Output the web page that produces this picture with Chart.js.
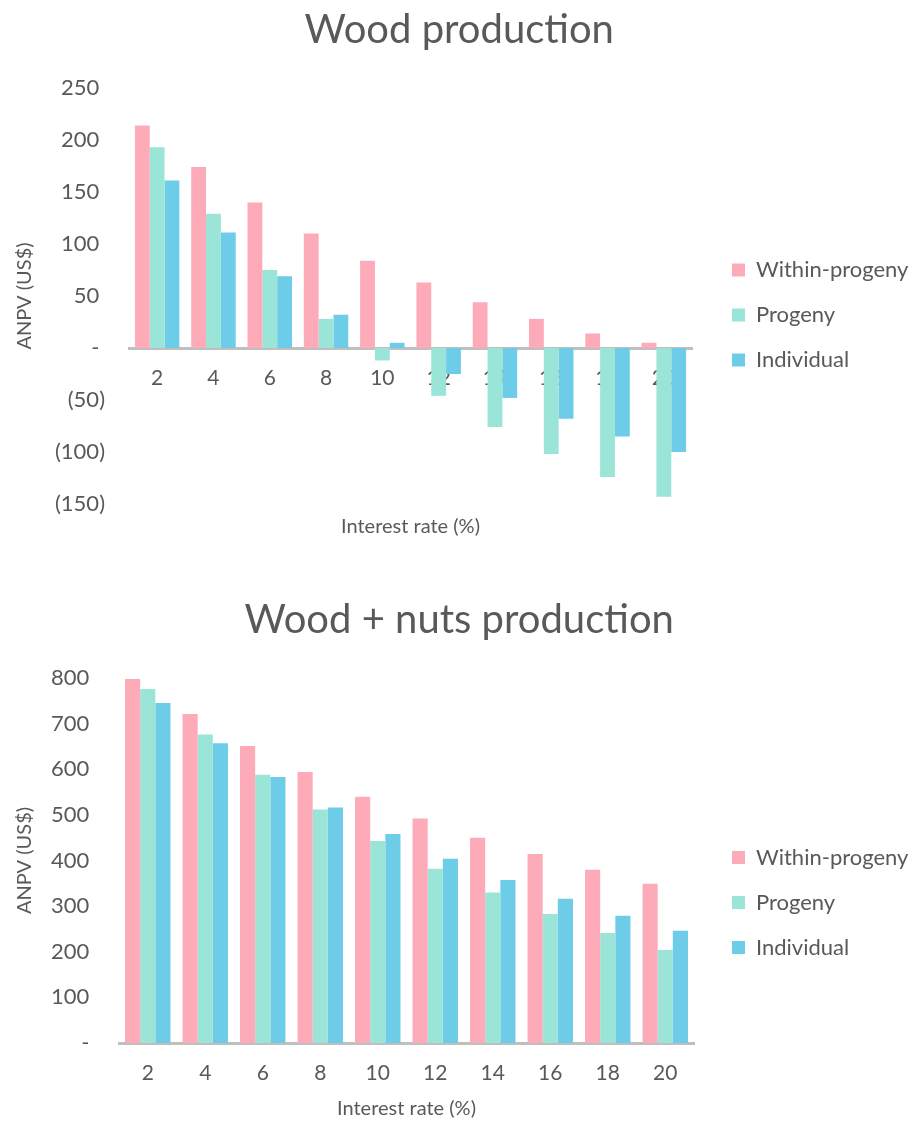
<!DOCTYPE html>
<html lang="en">
<head>
    <meta charset="UTF-8">
    <title>ANPV by interest rate</title>
    <script src="https://cdn.jsdelivr.net/npm/chart.js"></script>
    <style>
        body {
            margin: 0;
            padding: 0;
            background: #ffffff;
            overflow: hidden;
        }
        canvas {
            display: block;
        }
    </style>
</head>
<body>
    <canvas id="woodChart" width="913" height="560"></canvas>
    <canvas id="nutsChart" width="913" height="561"></canvas>

    <script>
        const rates = ['2', '4', '6', '8', '10', '12', '14', '16', '18', '20'];
        const seriesNames = ['Within-progeny', 'Progeny', 'Individual'];

        // Wood production
        const woodWithin = [214, 174, 140, 110, 84, 63, 44, 28, 14, 5];
        const woodProgeny = [193, 129, 75, 28, -12, -46, -76, -102, -124, -143];
        const woodIndividual = [161, 111, 69, 32, 5, -25, -48, -68, -85, -100];

        // Wood + nuts production
        const nutsWithin = [798, 721, 651, 594, 540, 492, 450, 414, 380, 349];
        const nutsProgeny = [776, 676, 588, 512, 443, 382, 330, 283, 241, 204];
        const nutsIndividual = [745, 657, 583, 516, 458, 404, 357, 316, 279, 246];

        const colors = ['#FDABB8', '#9AE5D7', '#6DCDE8'];
        const textColor = '#595959';
        const fontFamily = 'Lato';

        // legend text width -> right padding so the legend boxes start at x=732
        // (the legend adds 10px of its own on the right, hence it may go slightly negative)
        const mctx = document.createElement('canvas').getContext('2d');
        mctx.font = 'normal 22px ' + fontFamily;
        const legendItemWidth = 13 + 11 + mctx.measureText('Within-progeny').width;
        const rightPad = Math.max(-10, 913 - 732 - legendItemWidth - 10);

        function accounting(v) {
            if (v === 0) return '- ';
            if (v < 0) return '(' + Math.abs(v) + ')';
            return v + ' ';
        }

        function makeChart(id, title, data, yMin, yMax, step, opts) {
            const ctx = document.getElementById(id).getContext('2d');
            return new Chart(ctx, {
                type: 'bar',
                data: {
                    labels: rates,
                    datasets: seriesNames.map((name, i) => ({
                        label: name,
                        data: data[i],
                        backgroundColor: colors[i],
                        borderWidth: 0,
                        xAxisID: 'x',
                        yAxisID: 'y',
                        categoryPercentage: 0.79,
                        barPercentage: 1.0
                    }))
                },
                options: {
                    responsive: false,
                    animation: false,
                    layout: { padding: { left: 0, right: rightPad, top: 0, bottom: 0 } },
                    plugins: {
                        title: {
                            display: true,
                            text: title,
                            color: textColor,
                            font: { family: fontFamily, size: 40, weight: 'normal' },
                            padding: opts.titlePad
                        },
                        legend: {
                            position: 'right',
                            align: 'center',
                            maxWidth: 400,
                            title: {
                                display: true,
                                text: ' ',
                                font: { family: fontFamily, size: 10 },
                                padding: { top: opts.legendShift, bottom: 0 }
                            },
                            labels: {
                                color: textColor,
                                boxWidth: 13,
                                boxHeight: 13,
                                padding: 23,
                                font: { family: fontFamily, size: 22 }
                            }
                        },
                        tooltip: { enabled: false }
                    },
                    scales: {
                        x: {
                            type: 'category',
                            position: { y: 0 },
                            grid: { display: false, drawTicks: false },
                            border: { display: true, color: '#BFBFBF', width: 3 },
                            ticks: {
                                color: textColor,
                                padding: 18,
                                maxRotation: 0,
                                font: { family: fontFamily, size: 21 }
                            }
                        },
                        x2: {
                            type: 'category',
                            axis: 'x',
                            position: 'bottom',
                            grid: { display: false, drawTicks: false },
                            border: { display: false },
                            ticks: { display: false },
                            title: {
                                display: true,
                                text: 'Interest rate (%)',
                                color: textColor,
                                font: { family: fontFamily, size: 20 },
                                padding: opts.xTitlePad
                            }
                        },
                        y: {
                            type: 'linear',
                            position: 'left',
                            min: yMin,
                            max: yMax,
                            grid: { display: false, drawTicks: false },
                            border: { display: false },
                            ticks: {
                                stepSize: step,
                                color: textColor,
                                padding: 24,
                                font: { family: fontFamily, size: 22 },
                                callback: v => accounting(v)
                            },
                            title: {
                                display: true,
                                text: 'ANPV (US$)',
                                color: textColor,
                                font: { family: fontFamily, size: 20 },
                                padding: { top: 13, bottom: 0 }
                            },
                            afterFit: s => { s.width = opts.yWidth; }
                        },
                        yR: {
                            type: 'linear',
                            axis: 'y',
                            position: 'right',
                            grid: { display: false, drawTicks: false },
                            border: { display: false },
                            ticks: { display: false },
                            afterFit: s => { s.width = opts.rightGap; }
                        }
                    }
                }
            });
        }

        makeChart('woodChart', 'Wood production',
            [woodWithin, woodProgeny, woodIndividual], -150, 250, 50, {
                titlePad: { top: 6, bottom: 34 },
                xTitlePad: { top: 11, bottom: 21 },
                legendShift: 58,
                yWidth: 129,
                rightGap: 17
            });

        makeChart('nutsChart', 'Wood + nuts production',
            [nutsWithin, nutsProgeny, nutsIndividual], 0, 800, 100, {
                titlePad: { top: 36, bottom: 34 },
                xTitlePad: { top: 54, bottom: 0 },
                legendShift: 112,
                yWidth: 119,
                rightGap: 15
            });
    </script>
</body>
</html>
